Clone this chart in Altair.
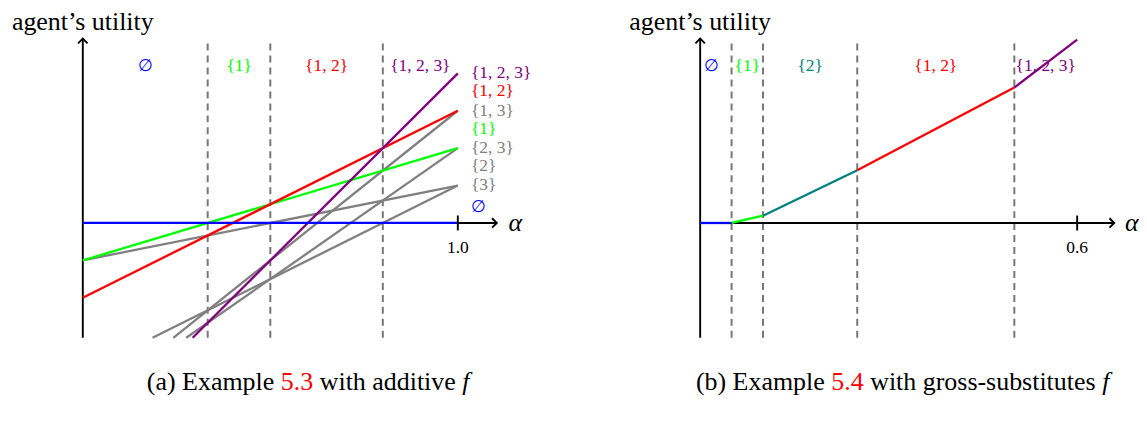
import altair as alt
import pandas as pd

# ---------------- data: panel (a) additive f ----------------
a_sets = ["{2}", "{3}", "{1, 3}", "{2, 3}", "{1}", "{1, 2}", "{1, 2, 3}", "∅"]
a_u0 = [-1, -4, -5, -5, -1, -2, -6, 0]      # utility at alpha = 0
a_u1 = [1, 1, 3, 2, 2, 3, 4, 0]              # utility at alpha = 1
a_colors = ["#808080", "#808080", "#808080", "#808080", "#00ff00", "#ff0000", "#800080", "#0000ff"]
a_breaks = [0.333, 0.5, 0.8]
a_region_labels = ["∅", "{1}", "{1, 2}", "{1, 2, 3}"]
a_region_x = [0.167, 0.417, 0.65, 0.9]
a_region_colors = ["#0000ff", "#00ff00", "#ff0000", "#800080"]
a_end_labels = ["{1, 2, 3}", "{1, 2}", "{1, 3}", "{1}", "{2, 3}", "{2}", "{3}", "∅"]
a_end_y = [4.01, 3.52, 3.0, 2.51, 2.01, 1.52, 1.01, 0.43]
a_end_colors = ["#800080", "#ff0000", "#808080", "#00ff00", "#808080", "#808080", "#808080", "#0000ff"]
a_tick = [1.0]
a_tick_label = ["1.0"]

# ---------------- data: panel (b) gross-substitutes f ----------------
b_breaks = [0, 0.05, 0.1, 0.25, 0.5, 0.6]
b_util = [0, 0, 0.195, 1.41, 3.62, 4.9]
b_sets = ["∅", "{1}", "{2}", "{1, 2}", "{1, 2, 3}"]
b_colors = ["#0000ff", "#00ff00", "#008080", "#ff0000", "#800080"]
b_region_x = [0.018, 0.075, 0.175, 0.375, 0.55]
b_tick = [0.6]
b_tick_label = ["0.6"]

# ---------------- layout constants ----------------
SERIF = "Liberation Serif"
H = 407
Y0PX = 214
YU = 37.5
Y_DOM = [-(H - Y0PX) / YU, Y0PX / YU]
BOTTOM = -3.07
TOP = 4.93
DASH_TOP = 4.8
LABEL_Y = 4.21
TITLE_Y = (Y0PX - 13) / YU
TICKLAB_Y = -0.67
W_A, W_B = 560, 571
CAP_SIZE = 26
SMALL = 17.5
LINE_W = 2.3
AXIS_W = 1.9

UP = "M-1,1L0,0L1,1"
RIGHT = "M-1,-1L0,0L-1,1"

ys = alt.Scale(domain=Y_DOM, nice=False, zero=False)


def Y(f):
    return alt.Y(f, type="quantitative", scale=ys, axis=None)


# Times-like widths for caption layout
WID = {'(': .333, ')': .333, 'a': .444, 'b': .5, ' ': .25, 'E': .611, 'x': .5, 'm': .778,
       'p': .5, 'l': .278, 'e': .444, '5': .5, '.': .25, '3': .5, '4': .5, 'w': .722,
       'i': .278, 't': .278, 'h': .5, 'd': .5, 'v': .5, 'g': .5, 'r': .333, 'o': .5,
       's': .389, '-': .333, 'u': .5, 'f': .278}


def caption_layers(pieces, center_px, y_px, size=CAP_SIZE):
    total = sum(sum(WID.get(c, .5) for c in t) for t, _, _ in pieces) * size
    x = center_px - total / 2
    layers = []
    for t, col, style in pieces:
        w = sum(WID.get(c, .5) for c in t) * size
        if t.strip():
            lead = (len(t) - len(t.lstrip())) * WID[' '] * size
            layers.append(
                alt.Chart(pd.DataFrame({"t": [t.strip()]}))
                .mark_text(font=SERIF, fontSize=size, align="left", baseline="middle",
                           color=col, fontStyle=style)
                .encode(x=alt.value(x + lead), y=alt.value(y_px), text="t:N")
            )
        x += w
    return layers


def panel(xs, W, lines_layer, breaks, region_labels, region_x, region_colors,
          x_axis_end, alpha_x, tick, tick_label, extra, caption):
    def X(f):
        return alt.X(f, type="quantitative", scale=xs, axis=None)

    yaxis = alt.Chart(pd.DataFrame({"x": [0], "y1": [BOTTOM], "y2": [TOP]})).mark_rule(
        color="black", strokeWidth=AXIS_W).encode(x=X("x"), y=Y("y1"), y2="y2")
    xaxis = alt.Chart(pd.DataFrame({"x1": [0], "x2": [x_axis_end], "y": [0]})).mark_rule(
        color="black", strokeWidth=AXIS_W).encode(x=X("x1"), x2="x2", y=Y("y"))
    up = alt.Chart(pd.DataFrame({"x": [0], "y": [TOP]})).mark_point(
        shape=UP, filled=False, size=90, color="black", strokeWidth=AXIS_W, opacity=1
    ).encode(x=X("x"), y=Y("y"))
    right = alt.Chart(pd.DataFrame({"x": [x_axis_end], "y": [0]})).mark_point(
        shape=RIGHT, filled=False, size=90, color="black", strokeWidth=AXIS_W, opacity=1
    ).encode(x=X("x"), y=Y("y"))
    dashed = alt.Chart(pd.DataFrame({"b": breaks, "y1": BOTTOM, "y2": DASH_TOP})).mark_rule(
        color="#777777", strokeWidth=2, strokeDash=[7, 5]).encode(x=X("b"), y=Y("y1"), y2="y2")
    ticks = alt.Chart(pd.DataFrame({"t": tick, "y1": -0.2, "y2": 0.2})).mark_rule(
        color="black", strokeWidth=AXIS_W).encode(x=X("t"), y=Y("y1"), y2="y2")
    ticklab = alt.Chart(pd.DataFrame({"t": tick, "lab": tick_label, "ly": TICKLAB_Y})).mark_text(
        font=SERIF, fontSize=SMALL, align="center", baseline="middle", color="black"
    ).encode(x=X("t"), y=Y("ly"), text="lab:N")
    regions = alt.Chart(pd.DataFrame({"x": region_x, "lab": region_labels, "c": region_colors, "y": LABEL_Y})).mark_text(
        font=SERIF, fontSize=SMALL, align="center", baseline="middle"
    ).encode(x=X("x"), y=Y("y"), text="lab:N", color=alt.Color("c:N", scale=None))
    ylabel = alt.Chart(pd.DataFrame({"x": [0], "y": [TITLE_Y], "t": ["agent’s utility"]})).mark_text(
        font=SERIF, fontSize=26, align="center", baseline="middle", color="black"
    ).encode(x=X("x"), y=Y("y"), text="t:N")
    alab = alt.Chart(pd.DataFrame({"x": [alpha_x], "y": [0], "t": ["α"]})).mark_text(
        font=SERIF, fontSize=26, fontStyle="italic", align="center", baseline="middle", color="black"
    ).encode(x=X("x"), y=Y("y"), text="t:N")

    layers = [dashed, xaxis, yaxis, lines_layer(X), ticks, up, right, ticklab, regions, ylabel, alab]
    layers += extra(X)
    layers += caption
    return alt.layer(*layers).properties(width=W, height=H)


# ---- panel (a)
xs_a = alt.Scale(domain=[-75 / 376, (W_A - 75) / 376], nice=False, zero=False)


def lines_a(X):
    df = pd.DataFrame({"set": a_sets, "u0": a_u0, "u1": a_u1, "c": a_colors})
    return alt.Chart(df).transform_calculate(
        slope="datum.u1 - datum.u0",
        xs=f"datum.u0 >= {BOTTOM} ? 0 : ({BOTTOM} - datum.u0) / (datum.u1 - datum.u0)",
        xe="1",
    ).transform_calculate(
        ys0="datum.u0 + datum.slope * datum.xs"
    ).mark_rule(strokeWidth=LINE_W).encode(
        x=X("xs:Q"), x2="xe:Q", y=Y("ys0:Q"), y2="u1:Q", color=alt.Color("c:N", scale=None)
    )


def extra_a(X):
    df = pd.DataFrame({"lab": a_end_labels, "y": a_end_y, "c": a_end_colors, "x": 1.035})
    return [alt.Chart(df).mark_text(font=SERIF, fontSize=SMALL, align="left", baseline="middle").encode(
        x=X("x"), y=Y("y"), text="lab:N", color=alt.Color("c:N", scale=None))]


cap_a = caption_layers([("(a) Example ", "black", "normal"), ("5.3", "#ff0000", "normal"),
                        (" with additive ", "black", "normal"), ("f", "black", "italic")],
                       center_px=309 - 8, y_px=381 - 8)

panel_a = panel(xs_a, W_A, lines_a, a_breaks, a_region_labels, a_region_x, a_region_colors,
                1.104, 1.153, a_tick, a_tick_label, extra_a, cap_a)

# ---- panel (b)
xs_b = alt.Scale(domain=[-134 / 630, (W_B - 134) / 630], nice=False, zero=False)


def lines_b(X):
    df = pd.DataFrame({"x1": b_breaks[:-1], "x2": b_breaks[1:], "y1": b_util[:-1], "y2": b_util[1:],
                       "set": b_sets, "c": b_colors})
    return alt.Chart(df).mark_rule(strokeWidth=LINE_W).encode(
        x=X("x1:Q"), x2="x2:Q", y=Y("y1:Q"), y2="y2:Q", color=alt.Color("c:N", scale=None))


def extra_b(X):
    return []


cap_b = caption_layers([("(b) Example ", "black", "normal"), ("5.4", "#ff0000", "normal"),
                        (" with gross-substitutes ", "black", "normal"), ("f", "black", "italic")],
                       center_px=905 - 568, y_px=381 - 8)

panel_b = panel(xs_b, W_B, lines_b, b_breaks[1:5], b_sets, b_region_x, b_colors,
                0.659, 0.687, b_tick, b_tick_label, extra_b, cap_b)

chart = alt.hconcat(panel_a, panel_b, spacing=0, bounds="flush").properties(
    padding=0, background="white"
).configure_view(stroke=None)

chart.save("out.html", embed_options={"renderer": "svg", "actions": False})
